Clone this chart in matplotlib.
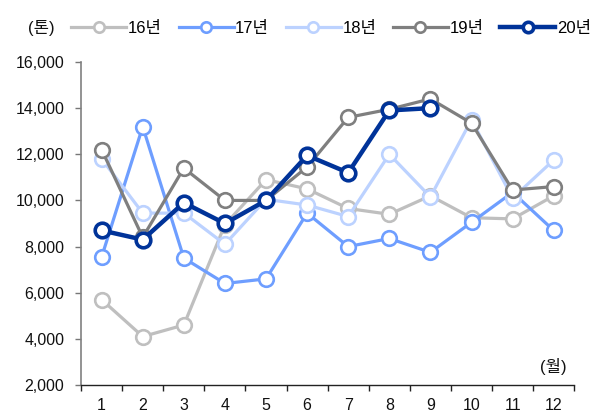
import matplotlib
matplotlib.use("Agg")
import matplotlib.pyplot as plt
from matplotlib import font_manager
from matplotlib.lines import Line2D

# Pick a condensed Latin face if available, with Korean fallback
names = {f.name for f in font_manager.fontManager.ttflist}
latin = "Liberation Sans Narrow" if "Liberation Sans Narrow" in names else "Liberation Sans"
plt.rcParams["font.family"] = [latin, "Noto Sans CJK KR", "DejaVu Sans"]

months = [1, 2, 3, 4, 5, 6, 7, 8, 9, 10, 11, 12]
month_labels = [str(m) for m in months]
series_names = ["16년", "17년", "18년", "19년", "20년"]

y16 = [5700, 4100, 4600, 8950, 10900, 10500, 9650, 9400, 10200, 9250, 9200, 10200]
y17 = [7550, 13200, 7500, 6400, 6600, 9450, 8000, 8350, 7750, 9050, 10350, 8700]
y18 = [11800, 9450, 9450, 8100, 10050, 9800, 9300, 12000, 10150, 13500, 10100, 11750]
y19 = [12200, 8400, 11400, 10000, 10000, 11450, 13600, 13950, 14400, 13350, 10450, 10600]
y20 = [8700, 8300, 9900, 9000, 10000, 11950, 11200, 13900, 14000]

colors = ["#BFBFBF", "#6E9EFF", "#BCD2FF", "#7F7F7F", "#003399"]
widths = [2.3, 2.3, 2.3, 2.3, 3.2]
edge_w = [1.9, 1.9, 1.9, 1.9, 2.6]

fig = plt.figure(figsize=(5.92, 4.16), dpi=100)
ax = fig.add_axes([0.137, 0.0745, 0.833, 0.7765])

data = [y16, y17, y18, y19, y20]
handles = []
for i, (name, ys) in enumerate(zip(series_names, data)):
    x = months[:len(ys)]
    ax.plot(x, ys, color=colors[i], lw=widths[i], marker="o",
            markersize=10.5, markerfacecolor="white",
            markeredgecolor=colors[i], markeredgewidth=edge_w[i],
            zorder=3 + i, clip_on=False, label=name)
    handles.append(Line2D([], [], color=colors[i], lw=widths[i], marker="o",
                          markersize=7.5, markerfacecolor="white",
                          markeredgecolor=colors[i], markeredgewidth=edge_w[i]))

ax.set_xlim(0.5, 12.5)
ax.set_ylim(2000, 16000)
ax.set_yticks(range(2000, 16001, 2000))
ax.set_yticklabels([f"{v:,}" for v in range(2000, 16001, 2000)])

# month labels centred in each slot, tick marks on slot boundaries
ax.set_xticks([m + 0.5 for m in [0] + months], minor=False)
ax.set_xticklabels([])
ax.set_xticks(months, minor=True)
ax.set_xticklabels(month_labels, minor=True)
ax.tick_params(axis="x", which="minor", length=0, pad=9, labelsize=11.5, colors="#111111")
ax.tick_params(axis="x", which="major", length=4, width=1, color="#222222", direction="out")
ax.tick_params(axis="y", length=4, width=1, color="#777777", pad=8, labelsize=11.5,
               labelcolor="#111111", direction="out")

for s in ["top", "right"]:
    ax.spines[s].set_visible(False)
ax.spines["left"].set_color("#808080")
ax.spines["left"].set_linewidth(1.2)
ax.spines["bottom"].set_color("#222222")
ax.spines["bottom"].set_linewidth(1.0)

ax.text(12.0, 2800, "(월)", ha="center", va="center", fontsize=12, color="#111111")
fig.text(0.069, 0.932, "(톤)", ha="center", va="center", fontsize=12, color="#111111")

fig.legend(handles, series_names, loc="center left", bbox_to_anchor=(0.1205, 0.932),
           ncol=5, frameon=False, handlelength=3.3, handletextpad=0.1,
           columnspacing=1.0, fontsize=12, borderaxespad=0, borderpad=0)

fig.savefig("out.png", dpi=100)
